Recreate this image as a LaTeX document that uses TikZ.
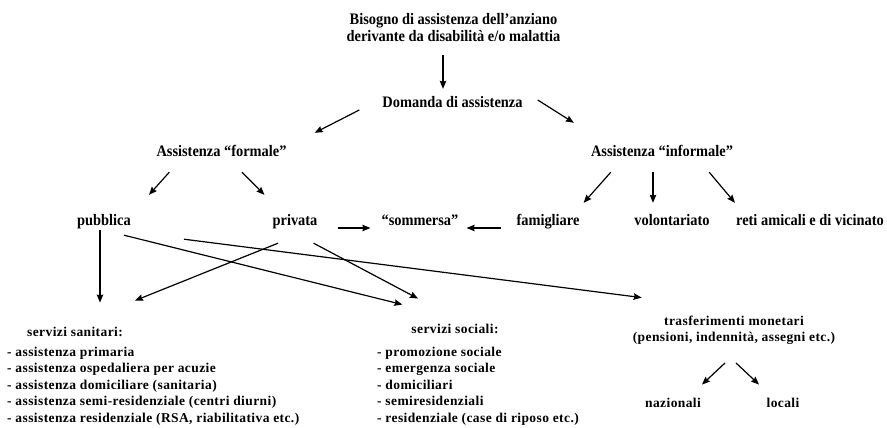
\documentclass[tikz,border=0pt]{standalone}
\usepackage{fontspec}
\setmainfont{Liberation Serif}
\newfontfamily\narrowserif{Liberation Serif}[FakeStretch=0.9]
\newfontfamily\spacedserif{Liberation Serif}[LetterSpace=3]
\usetikzlibrary{arrows.meta}

\begin{document}
\begin{tikzpicture}[x=1pt,y=-1pt]
\tikzset{
  topnode/.style={inner sep=0pt,text height=11pt,text depth=3pt,font=\narrowserif\bfseries\fontsize{16}{17}\selectfont},
  titlenode/.style={inner sep=0pt,align=center,font=\narrowserif\bfseries\fontsize{16}{17}\selectfont},
  listnode/.style={inner sep=0pt,text height=9.5pt,text depth=3pt,font=\spacedserif\bfseries\fontsize{13.5}{16.5}\selectfont},
  listblock/.style={inner sep=0pt,align=left,anchor=north west,font=\spacedserif\bfseries\fontsize{13.5}{16.5}\selectfont},
  flowarrow/.style={draw=black,line width=1.2pt,-{Stealth[length=8pt,width=6.5pt,inset=1pt]}}
}
\useasboundingbox (0,0) rectangle (887,428);
\node[titlenode,anchor=north] (n_title) at (453.5,12.7) {Bisogno di assistenza dell’anziano\\derivante da disabilità e/o malattia};
\node[topnode] (n_dom) at (452.5,103) {Domanda di assistenza};
\node[topnode] (n_formale) at (221.5,153) {Assistenza “formale”};
\node[topnode] (n_informale) at (662,153) {Assistenza “informale”};
\node[topnode] (n_pub) at (104,221) {pubblica};
\node[topnode] (n_priv) at (295,221) {privata};
\node[topnode] (n_somm) at (420,221) {“sommersa”};
\node[topnode] (n_fam) at (548,221) {famigliare};
\node[topnode] (n_vol) at (672,221) {volontariato};
\node[topnode] (n_reti) at (810,221) {reti amicali e di vicinato};
\node[listnode] (n_sanit) at (75,333) {servizi sanitari:};
\node[listblock] (n_sanitlist) at (7,346.5) {- assistenza primaria\\- assistenza ospedaliera per acuzie\\- assistenza domiciliare (sanitaria)\\- assistenza semi-residenziale (centri diurni)\\- assistenza residenziale (RSA, riabilitativa etc.)};
\node[listnode] (n_sociali) at (455,330) {servizi sociali:};
\node[listblock] (n_socialist) at (377,346.5) {- promozione sociale\\- emergenza sociale\\- domiciliari\\- semiresidenziali\\- residenziale (case di riposo etc.)};
\node[listblock,anchor=north,align=center] (n_trasf) at (734,315.6) {trasferimenti monetari\\(pensioni, indennità, assegni etc.)};
\node[listnode] (n_naz) at (673,404) {nazionali};
\node[listnode] (n_loc) at (783,404) {locali};
\draw[flowarrow] ([shift={(-10.5,14)}]n_title.south) -- ([shift={(-9.5,-7)}]n_dom.north);
\draw[flowarrow] ([shift={(-23,7)}]n_dom.west) -- ([shift={(28,-13)}]n_formale.north east);
\draw[flowarrow] ([shift={(15,-3)}]n_dom.east) -- ([shift={(-17,-23)}]n_informale.north west);
\draw[flowarrow] ([shift={(13,12)}]n_formale.south west) -- ([shift={(18,-19)}]n_pub.north east);
\draw[flowarrow] ([shift={(20.5,12)}]n_formale.south) -- ([shift={(-8,-19)}]n_priv.north west);
\draw[flowarrow] ([shift={(20,12)}]n_informale.south west) -- ([shift={(4,-11)}]n_fam.north east);
\draw[flowarrow] ([shift={(-9,12)}]n_informale.south) -- ([shift={(-19,-11)}]n_vol.north);
\draw[flowarrow] ([shift={(-24,12)}]n_informale.south east) -- ([shift={(-1,-11)}]n_reti.north west);
\draw[flowarrow] ([shift={(20,7)}]n_priv.east) -- ([shift={(-11,7)}]n_somm.west);
\draw[flowarrow] ([shift={(-15,7)}]n_fam.west) -- ([shift={(8,7)}]n_somm.east);
\draw[flowarrow] ([shift={(-4,2)}]n_pub.south) -- ([shift={(25,-24)}]n_sanit.north);
\draw[flowarrow] ([shift={(-7,7)}]n_pub.south east) -- ([shift={(-9,-19)}]n_sociali.north west);
\draw[flowarrow] ([shift={(53,11)}]n_pub.south east) -- ([shift={(9,-18)}]n_trasf.north west);
\draw[flowarrow] ([shift={(-17,15)}]n_priv.south) -- ([shift={(12,-26)}]n_sanit.north east);
\draw[flowarrow] ([shift={(-4,15)}]n_priv.south east) -- ([shift={(-37,-25)}]n_sociali.north);
\draw[flowarrow] ([shift={(-9,18)}]n_trasf.south) -- ([shift={(29,-13)}]n_naz.north);
\draw[flowarrow] ([shift={(2,18)}]n_trasf.south) -- ([shift={(-24,-13)}]n_loc.north);
\end{tikzpicture}
\end{document}
